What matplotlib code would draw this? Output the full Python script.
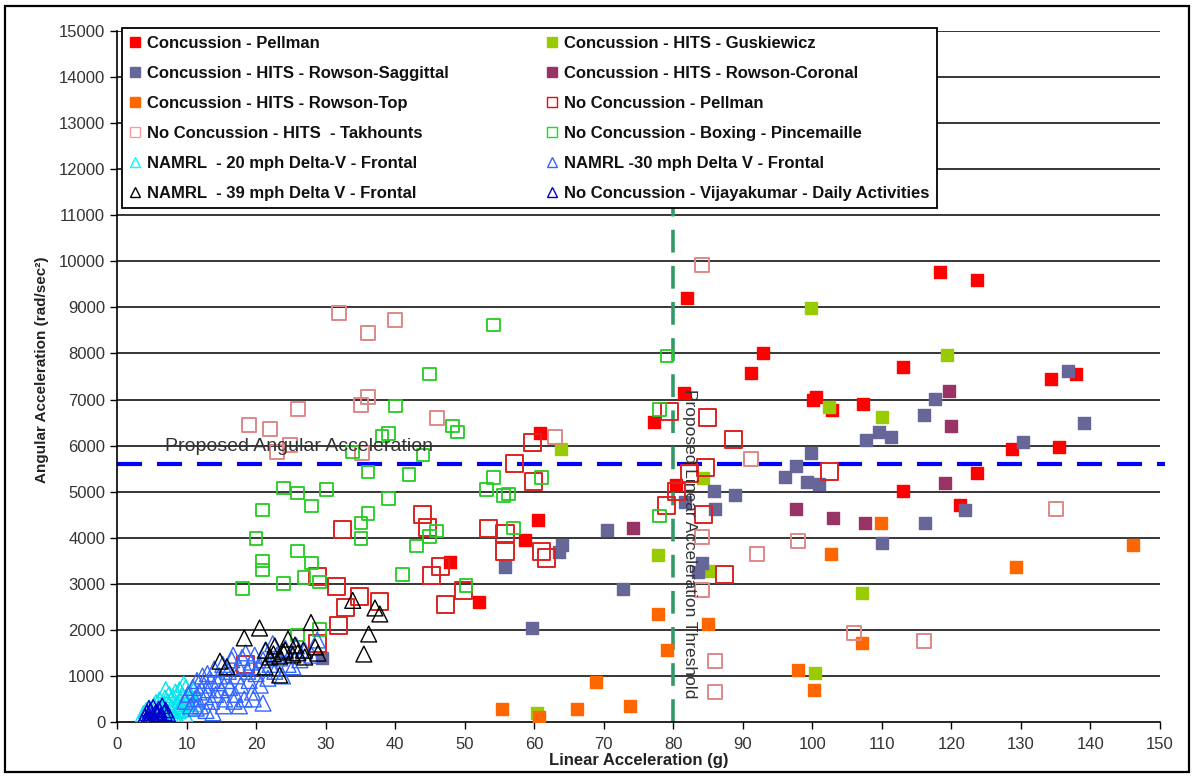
import matplotlib
matplotlib.use("Agg")
import matplotlib.pyplot as plt
from matplotlib.lines import Line2D
from matplotlib.patches import Rectangle

plt.rcParams['font.family'] = ['Liberation Sans', 'DejaVu Sans']

# ---------------- data (x = linear acc g, y = angular acc rad/s^2) ----------------
pellman_x = [60.8, 60.6, 58.7, 47.9, 52.1, 77.2, 80.4, 81.5, 82.0, 91.2, 92.9, 100.1, 100.5,
             102.8, 107.3, 113.0, 113.0, 118.4, 123.7, 123.7, 121.2, 128.7, 134.3, 137.9, 135.5]
pellman_y = [6270, 4385, 3950, 3475, 2600, 6510, 5140, 7140, 9200, 7570, 8010, 6990, 7050,
             6770, 6900, 7705, 5015, 9770, 9595, 5400, 4720, 5925, 7445, 7550, 5965]

gusk_x = [99.8, 119.4, 102.4, 110.0, 63.9, 84.3, 77.8, 85.1, 107.1, 100.4, 60.4]
gusk_y = [8990, 7960, 6840, 6620, 5925, 5300, 3625, 3280, 2800, 1065, 195]

sagg_x = [136.8, 117.6, 116.0, 139.0, 107.7, 109.6, 111.3, 130.3, 122.0, 116.2, 110.0, 99.8,
          97.6, 96.1, 99.2, 101.0, 85.9, 88.9, 81.7, 86.0, 70.5, 64.0, 63.5, 84.1, 83.6, 55.8,
          72.8, 59.7, 29.5]
sagg_y = [7620, 7010, 6665, 6490, 6120, 6295, 6190, 6070, 4600, 4320, 3885, 5840,
          5555, 5310, 5210, 5170, 5015, 4925, 4775, 4625, 4170, 3840, 3690, 3450, 3255, 3360,
          2890, 2040, 1390]

coron_x = [119.7, 120.0, 119.1, 107.6, 97.6, 103.0, 74.2]
coron_y = [7185, 6425, 5185, 4320, 4625, 4430, 4215]

top_x = [109.9, 146.1, 129.3, 102.7, 77.8, 85.0, 79.1, 107.1, 97.9, 100.2, 68.9, 66.1, 73.8,
         60.7, 55.3]
top_y = [4315, 3840, 3370, 3640, 2345, 2125, 1560, 1720, 1125, 690, 870, 280, 350,
         110, 280]

nc_pellman_x = [79.4, 84.9, 88.7, 59.7, 57.2, 84.6, 82.3, 102.5, 59.9, 80.5, 79.0, 84.4,
                55.8, 55.8, 61.0, 61.8, 87.4, 43.9, 44.6, 32.4, 53.4, 46.5, 45.2, 28.9,
                31.6, 34.9, 37.8, 32.9, 49.8, 47.3, 31.9, 28.9, 18.5]
nc_pellman_y = [6730, 6620, 6140, 6075, 5615, 5515, 5405, 5435, 5215, 5000, 4700, 4495,
                4100, 3700, 3710, 3560, 3210, 4495, 4215, 4170, 4190, 3365, 3170, 3150,
                2950, 2715, 2625, 2475, 2865, 2540, 2085, 1695, 1250]

takh_x = [31.9, 36.1, 40.0, 19.0, 22.0, 26.0, 36.1, 35.1, 46.0, 24.9, 23.0, 35.2, 84.1,
          63.0, 91.2, 135.0, 84.1, 92.0, 97.9, 84.1, 86.0, 86.0, 106.0, 116.1]
takh_y = [8870, 8440, 8720, 6440, 6360, 6795, 7050, 6880, 6600, 6020, 5860, 5840, 9920,
          6185, 5710, 4620, 4020, 3640, 3930, 2865, 1325, 650, 1930, 1760]

box_x = [54.1, 45.0, 40.0, 38.1, 39.0, 48.2, 49.0, 33.9, 44.0, 36.1, 42.0, 24.0, 26.0, 30.1,
         39.0, 53.1, 54.1, 20.9, 28.0, 36.1, 35.1, 35.1, 20.0, 46.0, 45.0, 43.1, 26.0, 20.9,
         20.9, 28.0, 26.9, 29.1, 24.0, 18.0, 41.1, 50.2, 26.0, 29.1, 57.0, 56.3, 78.0, 55.6,
         79.1, 78.0, 61.0]
box_y = [8620, 7555, 6860, 6210, 6270, 6425, 6295, 5860, 5795, 5425, 5380, 5080, 4970, 5055,
         4860, 5055, 5300, 4600, 4690, 4530, 4320, 3990, 3990, 4145, 4020, 3820, 3710, 3495,
         3300, 3450, 3145, 3040, 3015, 2890, 3210, 2955, 1890, 2000, 4210, 4950, 4470, 4920,
         7945, 6790, 5300]

namrl20_x = [3.8, 4.2, 4.6, 5.0, 5.3, 5.6, 5.9, 6.1, 6.4, 6.6, 6.9, 7.1, 7.3, 7.5, 7.8, 8.0,
             8.2, 8.4, 8.6, 8.8, 9.0, 9.1, 9.3, 9.5, 9.7, 9.9, 10.1, 10.3, 10.5, 10.8, 11.0,
             11.3, 6.0, 7.0, 8.5, 9.2, 10.0, 5.5, 8.8, 9.6]
namrl20_y = [180, 250, 300, 210, 350, 420, 300, 480, 250, 380, 520, 160, 440, 600, 300, 540,
             120, 650, 400, 250, 700, 480, 350, 560, 180, 750, 420, 620, 300, 520, 680,
             400, 150, 700, 30, 280, 100, 120, 60, 820]

namrl30_x = [9.8, 10.2, 10.6, 10.9, 11.2, 11.5, 11.8, 12.0, 12.3, 12.5, 12.7, 13.0, 13.2, 13.5,
             13.8, 14.0, 14.2, 14.5, 14.7, 15.0, 15.2, 15.5, 15.8, 16.0, 16.2, 16.5, 16.7, 17.0,
             17.2, 17.5, 17.8, 18.0, 18.3, 18.5, 18.8, 19.0, 19.3, 19.5, 19.8, 20.0, 20.3, 20.6,
             21.0, 21.0, 21.3, 21.7, 22.0, 22.4, 22.7, 23.0, 23.4, 23.8, 24.2, 24.6, 25.0, 25.3,
             25.8, 26.3, 27.0, 28.0, 28.8, 15.3, 16.8, 12.8, 19.6, 11.4, 13.6, 17.6]
namrl30_y = [450, 600, 350, 750, 500, 900, 650, 350, 1000, 800, 550, 1050, 700, 900,
             200, 1150, 600, 850, 1000, 700, 1250, 500, 900, 1100, 750, 1350, 1450, 600,
             1000, 1200, 800, 1400, 500, 1500, 1100, 900, 1300, 650, 1450, 1050, 1200, 800,
             410, 1350, 1550, 950, 1250, 1700, 1100, 1450, 1390, 1000, 1600, 1250, 1500, 1200,
             1650, 1350, 1550, 1450, 1780, 350, 450, 250, 500, 300, 450, 350]

namrl39_x = [14.8, 15.8, 18.3, 20.5, 21.3, 21.4, 22.0, 22.7, 23.4, 23.4, 23.9, 24.6, 25.3,
             25.6, 26.8, 27.0, 27.9, 28.5, 28.9, 33.9, 35.5, 36.2, 37.1, 37.8, 24.2, 26.0,
             22.5]
namrl39_y = [1320, 1200, 1825, 2040, 1195, 1560, 1410, 1650, 1430, 1020, 1520, 1800, 1455,
             1670, 1560, 1410, 2160, 1630, 1495, 2640, 1475, 1910, 2475, 2345, 1560, 1500,
             1480]

vijay_x = [4.0, 4.3, 4.5, 4.8, 5.0, 5.2, 5.4, 5.6, 5.8, 6.0, 6.2, 6.5, 6.8, 7.0, 4.6, 5.5,
           6.3, 5.1, 4.2, 7.3]
vijay_y = [120, 200, 60, 250, 150, 320, 80, 220, 180, 280, 110, 350, 200, 260, 300, 30,
           150, 100, 40, 180]

angular_threshold = 5600
linear_threshold = 80

x_ticks = list(range(0, 151, 10))
y_ticks = list(range(0, 15001, 1000))

# ---------------- figure ----------------
fig = plt.figure(figsize=(11.94, 7.76), dpi=100)
ax = fig.add_axes([117/1194, 1 - 722/776, (1160-117)/1194, (722-31)/776])

for yv in y_ticks[1:]:
    ax.axhline(yv, color='black', lw=1.1, zorder=1)

ax.axhline(angular_threshold, xmin=0, xmax=1.005, color='#0000FF', lw=3,
           dashes=(6, 3.6), zorder=2, clip_on=False)
ax.axvline(linear_threshold, color='#339966', lw=2.6, dashes=(6.3, 3.7), zorder=2)

series = [
    ('Concussion - Pellman', pellman_x, pellman_y, 's', '#FF0000', '#FF0000', 75, 1.0),
    ('Concussion - HITS - Guskiewicz', gusk_x, gusk_y, 's', '#99CC00', '#99CC00', 75, 1.0),
    ('Concussion - HITS - Rowson-Saggittal', sagg_x, sagg_y, 's', '#666699', '#666699', 75, 1.0),
    ('Concussion - HITS - Rowson-Coronal', coron_x, coron_y, 's', '#993366', '#993366', 75, 1.0),
    ('Concussion - HITS - Rowson-Top', top_x, top_y, 's', '#FF6600', '#FF6600', 75, 1.0),
    ('No Concussion - Pellman', nc_pellman_x, nc_pellman_y, 's', 'none', '#DD2222', 150, 1.4),
    ('No Concussion - HITS  - Takhounts', takh_x, takh_y, 's', 'none', '#E08888', 100, 1.4),
    ('No Concussion - Boxing - Pincemaille', box_x, box_y, 's', 'none', '#22CC22', 85, 1.3),
    ('NAMRL  - 20 mph Delta-V - Frontal', namrl20_x, namrl20_y, '^', 'none', '#00E5EE', 130, 1.0),
    ('NAMRL -30 mph Delta V - Frontal', namrl30_x, namrl30_y, '^', 'none', '#3366FF', 130, 1.0),
    ('NAMRL  - 39 mph Delta V - Frontal', namrl39_x, namrl39_y, '^', 'none', '#000000', 130, 1.0),
    ('No Concussion - Vijayakumar - Daily Activities', vijay_x, vijay_y, '^', 'none', '#0000CC', 120, 1.0),
]

handles = []
for label, xs, ys, m, fc, ec, s, lw in series:
    ax.scatter(xs, ys, marker=m, s=s, facecolors=fc, edgecolors=ec, linewidths=lw, zorder=3)
    legend_fc = fc if fc != 'none' else 'white'
    legend_ec = ec
    if label.startswith('No Concussion - Pellman'):
        legend_ec = '#FF0000'
    if 'Takhounts' in label:
        legend_ec = '#FF9999'
    if 'Boxing' in label:
        legend_ec = '#00EE00'
    if '20 mph' in label:
        legend_ec = '#00FFFF'
    handles.append(Line2D([], [], linestyle='none', marker=m, markersize=7.5,
                          markerfacecolor=legend_fc, markeredgecolor=legend_ec,
                          markeredgewidth=1.0, label=label))

ax.text(6.9, 5980, 'Proposed Angular Acceleration', fontsize=14, color='#333333',
        ha='left', va='center', zorder=6)
ax.text(82.3, 7230, 'Proposed Linear Acceleration Threshold', fontsize=12.5, color='#333333',
        rotation=-90, ha='center', va='top', zorder=6)

ax.set_xlim(0, 150)
ax.set_ylim(0, 15000)
ax.set_xticks(x_ticks)
ax.set_yticks(y_ticks)
ax.tick_params(axis='both', direction='out', length=5, width=1, labelsize=12,
               labelcolor='#333333', color='black')
ax.tick_params(axis='x', pad=6)
for sp in ['top', 'right']:
    ax.spines[sp].set_visible(False)
for sp in ['left', 'bottom']:
    ax.spines[sp].set_linewidth(1.2)
    ax.spines[sp].set_color('black')

ax.set_xlabel('Linear Acceleration (g)', fontsize=12, fontweight='bold', color='#222222')
ax.set_ylabel('Angular Acceleration (rad/sec²)', fontsize=11, fontweight='bold', color='#222222')
ax.xaxis.set_label_coords(0.5, -0.055)
ax.xaxis.label.set_va('center')
ax.yaxis.set_label_coords(-0.072, 0.51)
ax.yaxis.label.set_va('center')

# legend ordered column-wise so it reads row-wise as in reference
order = [0, 2, 4, 6, 8, 10, 1, 3, 5, 7, 9, 11]
leg_handles = [handles[i] for i in order]
x0 = (122 - 117) / 1043
y_top = (722 - 25) / 691
y_bot = (722 - 208) / 691
w = (937 - 122) / 1043
leg = ax.legend(handles=leg_handles, ncol=2, loc='lower left',
                bbox_to_anchor=(x0, y_bot, w, y_top - y_bot), mode='expand',
                frameon=True, fancybox=False, edgecolor='black', framealpha=1.0,
                facecolor='white',
                handlelength=0.7, handletextpad=0.35, labelspacing=0.9,
                borderpad=0.45, borderaxespad=0, columnspacing=1.0,
                prop={'weight': 'bold', 'size': 12})
leg.get_frame().set_linewidth(1.3)
leg.set_zorder(10)
for t in leg.get_texts():
    t.set_color('#111111')

fig.patches.append(Rectangle((5/1194, 4/776), 1184/1194, 766/776, transform=fig.transFigure,
                             fill=False, edgecolor='black', lw=1.6))

fig.savefig('out.png', dpi=100)
